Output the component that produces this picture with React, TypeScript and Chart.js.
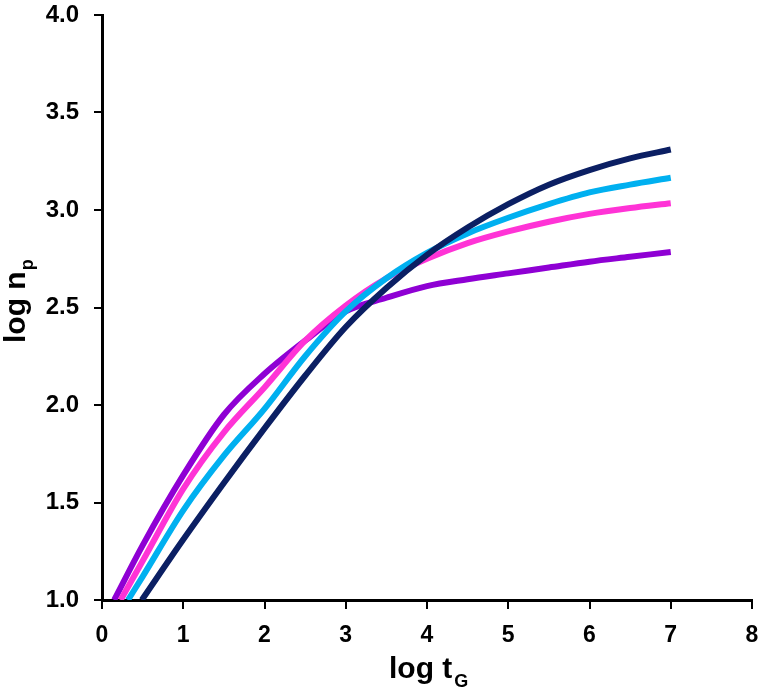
import React, { useEffect, useRef } from "react";
import { Chart, registerables } from "chart.js";

Chart.register(...registerables);

const FONT = "'Liberation Sans', Arial, Helvetica, sans-serif";

// x-axis ticks (log tG) and y-axis ticks (log np)
const xTickValues = [0, 1, 2, 3, 4, 5, 6, 7, 8];
const yTickValues = [1.0, 1.5, 2.0, 2.5, 3.0, 3.5, 4.0];

// Series
const navyX = [0.49, 1, 1.5, 2, 2.5, 3, 3.5, 4, 4.5, 5, 5.5, 6, 6.5, 7];
const navyY = [1.0, 1.31, 1.6, 1.88, 2.15, 2.4, 2.6, 2.77, 2.91, 3.03, 3.13, 3.205, 3.265, 3.31];

const cyanX = [0.32, 0.5, 1, 1.5, 2, 2.5, 3, 3.5, 4, 4.5, 5, 5.5, 6, 6.5, 7];
const cyanY = [1.0, 1.12, 1.46, 1.74, 1.98, 2.25, 2.48, 2.65, 2.78, 2.88, 2.96, 3.03, 3.09, 3.13, 3.165];

const magentaX = [0.23, 0.5, 1, 1.5, 2, 2.5, 3, 3.5, 4, 4.5, 5, 5.5, 6, 6.5, 7];
const magentaY = [1.0, 1.2, 1.57, 1.86, 2.09, 2.33, 2.51, 2.65, 2.75, 2.83, 2.89, 2.94, 2.98, 3.01, 3.035];

const purpleX = [0.15, 0.5, 1, 1.5, 2, 2.5, 3, 3.5, 4, 4.5, 5, 5.5, 6, 6.5, 7];
const purpleY = [1.0, 1.28, 1.64, 1.95, 2.16, 2.33, 2.48, 2.55, 2.61, 2.645, 2.675, 2.705, 2.735, 2.76, 2.785];

const toPoints = (xs: number[], ys: number[]) => xs.map((x, i) => ({ x, y: ys[i] }));

const axisTitles = {
  id: "axisTitles",
  afterDraw(chart: any) {
    const ctx = chart.ctx as CanvasRenderingContext2D;
    ctx.save();
    ctx.fillStyle = "#000";
    ctx.textBaseline = "alphabetic";
    ctx.textAlign = "left";
    // x title: log t_G
    ctx.font = `bold 30px ${FONT}`;
    const mainX = "log t";
    const w1 = ctx.measureText(mainX).width;
    ctx.fillText(mainX, 389, 678);
    ctx.font = `bold 18px ${FONT}`;
    ctx.fillText("G", 389 + w1 + 2, 687);
    // y title: log n_p
    ctx.translate(25, 343);
    ctx.rotate(-Math.PI / 2);
    ctx.font = `bold 30px ${FONT}`;
    const mainY = "log n";
    const w2 = ctx.measureText(mainY).width;
    ctx.fillText(mainY, 0, 0);
    ctx.font = `bold 18px ${FONT}`;
    ctx.fillText("p", w2 + 1, 8);
    ctx.restore();
  },
};

export default function App() {
  const ref = useRef<HTMLCanvasElement>(null);

  useEffect(() => {
    if (!ref.current) return;
    const chart = new Chart(ref.current, {
      type: "line",
      data: {
        datasets: [
          { label: "navy", data: toPoints(navyX, navyY), borderColor: "#0B1F63" },
          { label: "cyan", data: toPoints(cyanX, cyanY), borderColor: "#00B0F0" },
          { label: "magenta", data: toPoints(magentaX, magentaY), borderColor: "#FF33D6" },
          { label: "purple", data: toPoints(purpleX, purpleY), borderColor: "#8F00D4" },
        ].map((d) => ({
          ...d,
          borderWidth: 6,
          pointRadius: 0,
          fill: false,
          cubicInterpolationMode: "monotone" as const,
        })),
      },
      options: {
        animation: false,
        responsive: false,
        layout: { padding: { left: 0, top: 15, right: 8, bottom: 0 } },
        plugins: { legend: { display: false }, tooltip: { enabled: false }, title: { display: false } },
        scales: {
          x: {
            type: "linear",
            min: 0,
            max: 8,
            afterFit: (s: any) => {
              s.height = 90;
              s.paddingLeft = 0;
              s.paddingRight = 0;
            },
            afterBuildTicks: (s: any) => {
              s.ticks = xTickValues.map((v) => ({ value: v }));
            },
            ticks: {
              color: "#000",
              font: { family: FONT, size: 23, weight: "bold" },
              padding: 13,
              maxRotation: 0,
              callback: (v: any) => String(v),
            },
            grid: { drawOnChartArea: false, drawTicks: true, tickLength: 9, color: "#000", lineWidth: 2 },
            border: { display: true, color: "#000", width: 3 },
          },
          y: {
            type: "linear",
            min: 1,
            max: 4,
            afterFit: (s: any) => {
              s.width = 102;
              s.paddingTop = 0;
              s.paddingBottom = 0;
            },
            afterBuildTicks: (s: any) => {
              s.ticks = yTickValues.map((v) => ({ value: v }));
            },
            ticks: {
              color: "#000",
              font: { family: FONT, size: 24, weight: "bold" },
              padding: 15,
              callback: (v: any) => Number(v).toFixed(1),
            },
            grid: { drawOnChartArea: false, drawTicks: true, tickLength: 8, color: "#000", lineWidth: 2 },
            border: { display: true, color: "#000", width: 3 },
          },
        },
      },
      plugins: [axisTitles],
    });
    return () => chart.destroy();
  }, []);

  return (
    <div style={{ position: "fixed", left: 0, top: 0, width: 760, height: 690, background: "#fff" }}>
      <canvas ref={ref} width={760} height={690} style={{ display: "block", width: 760, height: 690 }} />
    </div>
  );
}
